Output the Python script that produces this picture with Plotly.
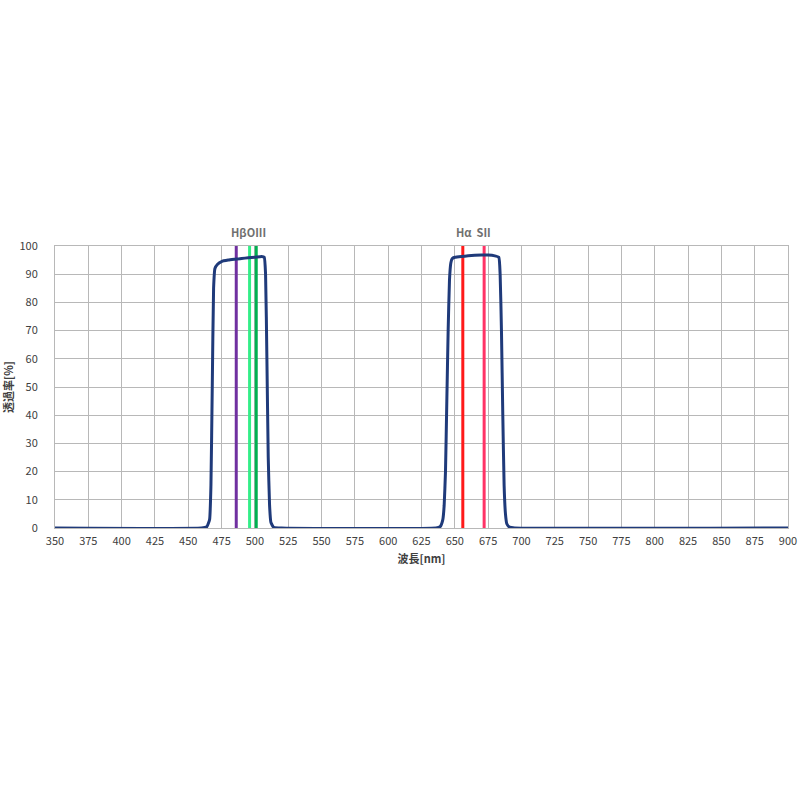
import plotly.graph_objects as go

# Transmission curve
wavelength = [350, 460, 464, 466, 467, 468, 469, 470, 472, 475, 480, 485, 490, 495, 500, 505, 507,
              508, 509, 510, 511, 512, 514, 520,
              636, 639, 641, 642, 643, 644, 645, 646, 647, 648, 650, 655, 660, 665, 670, 675, 680,
              683, 684, 685, 686, 687, 688, 689, 691, 695, 900]
transmission = [0, 0, 0.5, 3, 15, 50, 85, 92, 93.5, 94.5, 95, 95.3, 95.6, 95.8, 96, 96.3, 96,
                90, 60, 25, 8, 2, 0.3, 0,
                0, 0.5, 3, 8, 20, 45, 70, 88, 94, 95.5, 96, 96.3, 96.5, 96.7, 96.8, 96.8, 96.5,
                96, 90, 70, 40, 15, 5, 1.5, 0.3, 0, 0]

# Emission lines
line_names = ["Hβ", "OIII", "OIII", "Hα", "SII"]
line_wl = [486, 496, 501, 656, 672]
line_colors = ["#7030a0", "#33ee88", "#00b050", "#ff1a1a", "#ff3366"]

# Labels above the plot
label_texts = ["HβOIII", "Hα  SII"]
label_x = [495, 664]

x_ticks = list(range(350, 901, 25))
y_ticks = list(range(0, 101, 10))

fig = go.Figure()

for wl, col in zip(line_wl, line_colors):
    fig.add_trace(go.Scatter(x=[wl, wl], y=[0, 100], mode="lines",
                             line=dict(color=col, width=3), showlegend=False,
                             hoverinfo="skip"))

fig.add_trace(go.Scatter(x=wavelength, y=transmission, mode="lines",
                         line=dict(color="#1f3a7a", width=3, shape="spline", smoothing=0.4),
                         showlegend=False))

for t, xv in zip(label_texts, label_x):
    fig.add_annotation(x=xv, y=100, yref="y", xref="x", text="<b>" + t + "</b>",
                       showarrow=False, yshift=14,
                       font=dict(size=11, color="#707070", family="Noto Sans CJK JP"))

fig.update_layout(
    width=800, height=800,
    paper_bgcolor="white", plot_bgcolor="white",
    margin=dict(l=55, r=12, t=246, b=272, autoexpand=False),
    font=dict(family="Noto Sans CJK JP", size=11, color="#404040"),
)
fig.update_xaxes(range=[350, 900], tickvals=x_ticks, showgrid=True, gridcolor="#b8b8b8",
                 gridwidth=1, showline=True, linecolor="#b8b8b8", mirror=True, zeroline=False,
                 ticks="", ticklabelstandoff=3, automargin=False, ticklabeloverflow="allow",
                 title=dict(text="<b>波長[nm]</b>", font=dict(size=11, color="#404040"), standoff=8))
fig.update_yaxes(range=[0, 100], tickvals=y_ticks, showgrid=True, gridcolor="#b8b8b8",
                 gridwidth=1, showline=True, linecolor="#b8b8b8", mirror=True, zeroline=False,
                 ticks="", ticklabelstandoff=14, automargin=False,
                 title=dict(text="<b>透過率[%]</b>", font=dict(size=11, color="#404040"), standoff=14))

fig.write_html("out.html",
               config={"displayModeBar": False},
               post_script="document.body.style.margin='0';document.body.style.overflow='hidden';")
